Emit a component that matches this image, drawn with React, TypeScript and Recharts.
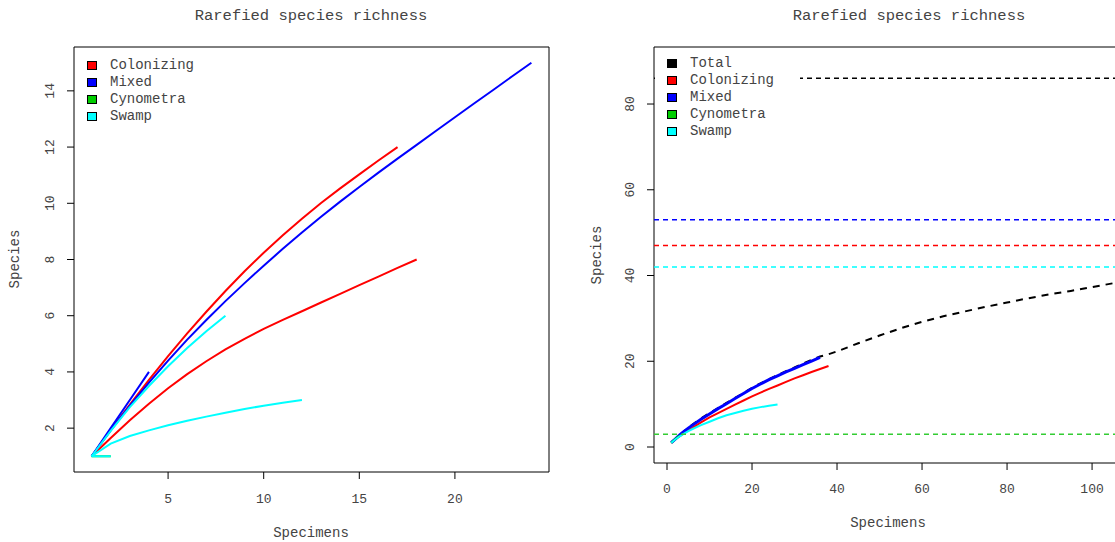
import React from "react";
import { LineChart, Line, XAxis, YAxis, ReferenceArea, ReferenceLine, Legend } from "recharts";

const FONT = "'Liberation Mono', 'Courier New', monospace";
const TEXT = "#444";

const COLORS: Record<string, string> = {
  Total: "#000000",
  Colonizing: "#ff0000",
  Mixed: "#0000ff",
  Cynometra: "#00cd00",
  Swamp: "#00ffff",
};

// ---- left panel: one rarefaction curve per plot, x = 1, 2, 3 ... specimens
const colonizingPlotA = [1, 1.93, 2.84, 3.72, 4.56, 5.37, 6.14, 6.88, 7.58, 8.24, 8.86, 9.45, 10.01, 10.53, 11.03, 11.52, 12];
const colonizingPlotB = [1, 1.65, 2.28, 2.87, 3.42, 3.92, 4.38, 4.8, 5.18, 5.53, 5.85, 6.16, 6.47, 6.78, 7.09, 7.39, 7.7, 8];
const mixedPlotA = [1, 1.92, 2.8, 3.62, 4.4, 5.15, 5.85, 6.52, 7.16, 7.78, 8.38, 8.96, 9.52, 10.06, 10.58, 11.09, 11.59, 12.08, 12.57, 13.06, 13.55, 14.03, 14.52, 15];
const mixedPlotB = [1, 2, 3, 4];
const cynometraPlot = [1, 1];
const swampPlotA = [1, 1.9, 2.75, 3.5, 4.2, 4.85, 5.45, 6];
const swampPlotB = [1, 1.45, 1.72, 1.92, 2.1, 2.26, 2.41, 2.55, 2.68, 2.8, 2.9, 3];
const swampPlotC = [1, 1];

const leftTicksX = [5, 10, 15, 20];
const leftTicksY = [2, 4, 6, 8, 10, 12, 14];

// ---- right panel: pooled curves per forest type
const rightSteps = [1, 2, 3, 4, 5, 6, 8, 10, 12, 14, 16, 18, 20, 22, 24, 26, 28, 30, 32, 34, 36, 38];
const totalTailX = [40, 45, 50, 55, 60, 65, 70, 75, 80, 85, 90, 95, 100, 105, 110, 113];
const totalY = [1, 1.95, 2.85, 3.7, 4.5, 5.25, 6.65, 7.9, 9.1, 10.3, 11.45, 12.6, 13.8, 14.85, 15.85, 16.8, 17.7, 18.55, 19.45, 20.3, 21.1, 21.65,
  22.3, 24.2, 26.0, 27.7, 29.2, 30.5, 31.6, 32.7, 33.7, 34.7, 35.6, 36.4, 37.3, 38.2, 39.0, 39.5];
const colonizingY = [1, 1.8, 2.55, 3.25, 3.9, 4.5, 5.75, 6.9, 7.9, 8.9, 9.9, 10.85, 11.8, 12.7, 13.55, 14.35, 15.2, 16.0, 16.75, 17.5, 18.2, 18.9];
const mixedY = [1, 1.9, 2.8, 3.62, 4.4, 5.1, 6.45, 7.7, 8.95, 10.1, 11.3, 12.5, 13.65, 14.7, 15.7, 16.6, 17.5, 18.35, 19.2, 20.05, 20.9];
const cynometraY = [1, 1.9, 2.7];
const swampY = [1, 1.8, 2.5, 3.1, 3.7, 4.2, 5.1, 5.9, 6.7, 7.4, 7.95, 8.45, 8.9, 9.3, 9.6, 9.9];

// observed species per group (dashed reference lines)
const observedRichness: [string, number][] = [
  ["Total", 86],
  ["Colonizing", 47],
  ["Mixed", 53],
  ["Cynometra", 3],
  ["Swamp", 42],
];

const rightTicksX = [0, 20, 40, 60, 80, 100];
const rightTicksY = [0, 20, 40, 60, 80];

const leftLegend = ["Colonizing", "Mixed", "Cynometra", "Swamp"];
const rightLegend = ["Total", "Colonizing", "Mixed", "Cynometra", "Swamp"];

const seq = (ys: number[]) => ys.map((y, i) => ({ x: i + 1, y }));
const pts = (xs: number[], ys: number[]) => ys.map((y, i) => ({ x: xs[i], y }));

const leftSeries = [
  { key: "colA", color: COLORS.Colonizing, data: seq(colonizingPlotA) },
  { key: "colB", color: COLORS.Colonizing, data: seq(colonizingPlotB) },
  { key: "mixA", color: COLORS.Mixed, data: seq(mixedPlotA) },
  { key: "mixB", color: COLORS.Mixed, data: seq(mixedPlotB) },
  { key: "cyn", color: COLORS.Cynometra, data: seq(cynometraPlot) },
  { key: "swA", color: COLORS.Swamp, data: seq(swampPlotA) },
  { key: "swB", color: COLORS.Swamp, data: seq(swampPlotB) },
  { key: "swC", color: COLORS.Swamp, data: seq(swampPlotC) },
];

const rightSeries = [
  { key: "total", color: COLORS.Total, width: 2, dash: "7 6", data: pts([...rightSteps, ...totalTailX], totalY) },
  { key: "col", color: COLORS.Colonizing, width: 2, dash: undefined, data: pts(rightSteps, colonizingY) },
  { key: "mix", color: COLORS.Mixed, width: 3, dash: undefined, data: pts(rightSteps, mixedY) },
  { key: "cyn", color: COLORS.Cynometra, width: 2, dash: undefined, data: pts(rightSteps, cynometraY) },
  { key: "sw", color: COLORS.Swamp, width: 2, dash: undefined, data: pts(rightSteps, swampY) },
];

const RotatedTick = (props: any) => {
  const { x, y, payload } = props;
  const bx = x - 13;
  return (
    <text x={bx} y={y} transform={`rotate(-90 ${bx} ${y})`} textAnchor="middle" fontSize={13} fontFamily={FONT} fill={TEXT}>
      {payload.value}
    </text>
  );
};

const LegendBox = ({ names }: { names: string[] }) => (
  <div>
    {names.map((n) => (
      <div key={n} style={{ display: "flex", alignItems: "center", height: 17 }}>
        <div style={{ width: 8, height: 7, background: COLORS[n], border: "1px solid #000", marginRight: 13 }} />
        <span style={{ fontFamily: FONT, fontSize: 14, color: TEXT, lineHeight: "17px" }}>{n}</span>
      </div>
    ))}
  </div>
);

const tickStyle = { fontSize: 13, fontFamily: FONT, fill: TEXT };

function LeftPanel() {
  const xd: [number, number] = [0.08, 24.92];
  const yd: [number, number] = [0.44, 15.56];
  return (
    <LineChart width={560} height={542} margin={{ top: 47, right: 11, bottom: 0, left: 0 }}>
      <XAxis dataKey="x" type="number" domain={xd} allowDataOverflow ticks={leftTicksX} interval={0} height={70}
        axisLine={false} tickSize={7} tickMargin={15} tickLine={{ stroke: "#000" }} tick={tickStyle} />
      <YAxis type="number" domain={yd} allowDataOverflow ticks={leftTicksY} interval={0} width={74}
        axisLine={false} tickSize={7} tickMargin={0} tickLine={{ stroke: "#000" }} tick={<RotatedTick />} />
      <ReferenceArea x1={xd[0]} x2={xd[1]} y1={yd[0]} y2={yd[1]} fill="none" fillOpacity={0} stroke="#000" strokeWidth={1} ifOverflow="visible" />
      {leftSeries.map((s) => (
        <Line key={s.key} data={s.data} dataKey="y" type="linear" stroke={s.color} strokeWidth={2}
          dot={false} activeDot={false} isAnimationActive={false} />
      ))}
      <Legend layout="vertical" align="center" verticalAlign="middle"
        wrapperStyle={{ position: "absolute", left: 87, top: 57, width: "auto" }}
        content={() => <LegendBox names={leftLegend} />} />
    </LineChart>
  );
}

function RightPanel() {
  const xd: [number, number] = [-3.06, 114.1];
  const yd: [number, number] = [-3.73, 93.3];
  return (
    <LineChart width={620} height={542} margin={{ top: 47, right: 28, bottom: 0, left: 0 }}>
      <XAxis dataKey="x" type="number" domain={xd} allowDataOverflow ticks={rightTicksX} interval={0} height={79}
        axisLine={false} tickSize={7} tickMargin={14} tickLine={{ stroke: "#000" }} tick={tickStyle} />
      <YAxis type="number" domain={yd} allowDataOverflow ticks={rightTicksY} interval={0} width={94}
        axisLine={false} tickSize={7} tickMargin={0} tickLine={{ stroke: "#000" }} tick={<RotatedTick />} />
      <ReferenceArea x1={xd[0]} x2={xd[1]} y1={yd[0]} y2={yd[1]} fill="none" fillOpacity={0} stroke="#000" strokeWidth={1} ifOverflow="visible" />
      {rightSeries.map((s) => (
        <Line key={s.key} data={s.data} dataKey="y" type="linear" stroke={s.color} strokeWidth={s.width}
          strokeDasharray={s.dash} dot={false} activeDot={false} isAnimationActive={false} />
      ))}
      {observedRichness.map(([name, v]) => (
        <ReferenceLine key={name} y={v} stroke={name === "Cynometra" ? "#33cc33" : COLORS[name]} strokeWidth={1.5} strokeDasharray="5 4" />
      ))}
      <Legend layout="vertical" align="center" verticalAlign="middle"
        wrapperStyle={{ position: "absolute", left: 95, top: 50, width: 145, height: 92, paddingLeft: 12, paddingTop: 5, boxSizing: "border-box", background: "#fff" }}
        content={() => <LegendBox names={rightLegend} />} />
    </LineChart>
  );
}

export default function App() {
  return (
    <div style={{ position: "fixed", left: 0, top: 0, width: 1115, height: 542, overflow: "hidden", background: "#fff" }}>
      <svg width={1115} height={542} style={{ position: "absolute", left: 0, top: 0 }}>
        <g fontFamily={FONT} fill={TEXT} textAnchor="middle">
          <text x={311} y={19.5} fontSize={15.5}>Rarefied species richness</text>
          <text x={909} y={19.5} fontSize={15.5}>Rarefied species richness</text>
          <text x={311} y={537} fontSize={14}>Specimens</text>
          <text x={888} y={527} fontSize={14}>Specimens</text>
          <text x={19} y={259} fontSize={14} transform="rotate(-90 19 259)">Species</text>
          <text x={601} y={255} fontSize={14} transform="rotate(-90 601 255)">Species</text>
        </g>
      </svg>
      <div style={{ position: "absolute", left: 0, top: 0 }}>
        <LeftPanel />
      </div>
      <div style={{ position: "absolute", left: 560, top: 0 }}>
        <RightPanel />
      </div>
    </div>
  );
}
